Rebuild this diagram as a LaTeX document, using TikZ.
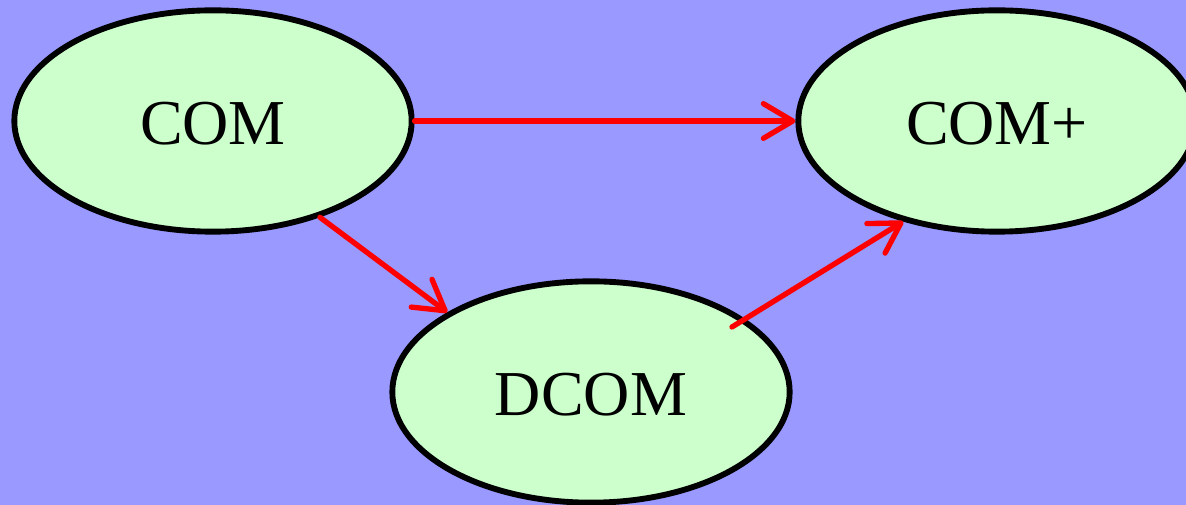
\documentclass[tikz,border=0pt]{standalone}
\usepackage{fontspec}
\setmainfont{Liberation Serif}
\usetikzlibrary{shapes.geometric,arrows.meta,calc}
\definecolor{bgblue}{HTML}{9999FF}
\definecolor{nodegreen}{HTML}{CCFFCC}

\begin{document}
\begin{tikzpicture}[x=0.75pt,y=-0.75pt,
  state/.style={ellipse,draw=black,line width=4.4pt,fill=nodegreen,
    minimum width=298pt,minimum height=166pt,inner sep=0pt,text depth=0pt,
    font=\fontsize{48}{57}\selectfont},
  link/.style={draw=red,line width=4pt,line cap=round,
    -{Straight Barb[length=22pt,width=26pt,line cap=round,line join=round]}}]
   \fill[bgblue] (0,0) rectangle (1186,505);
   \useasboundingbox (0,0) rectangle (1186,505);
   \node[state] (com)  at (213,121) {\raisebox{-4pt}{COM}};
   \node[state] (comp) at (997,121) {\raisebox{-4pt}{COM+}};
   \node[state] (dcom) at (591,392) {\raisebox{-4pt}{DCOM}};
   \coordinate (dout) at ($(dcom)+(141,-65)$);
   \draw[link] (com) -- (comp);
   \draw[link] (com.-42.7) -- (dcom.151);
   \draw[link] (dout) -- (comp.227.1);
\end{tikzpicture}
\end{document}
